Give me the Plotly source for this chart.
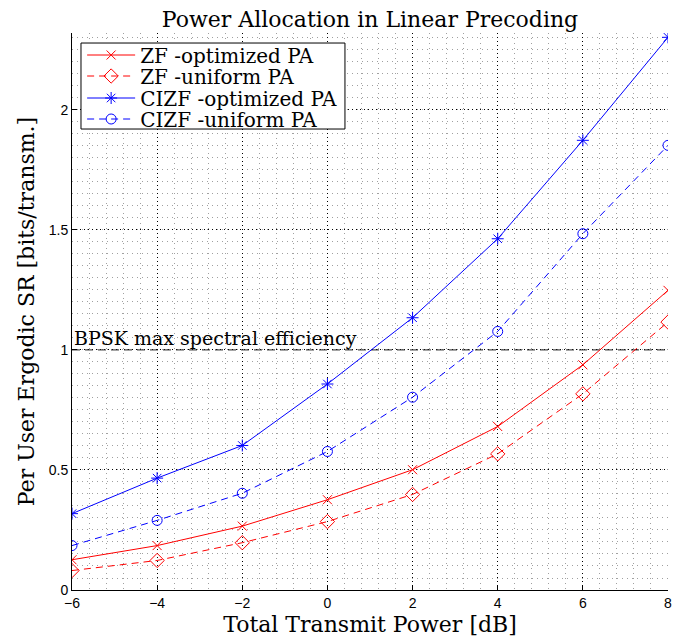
import plotly.graph_objects as go

x_db = [-6, -4, -2, 0, 2, 4, 6, 8]
zf_opt = [0.126, 0.185, 0.266, 0.376, 0.501, 0.681, 0.938, 1.248]
zf_uni = [0.081, 0.123, 0.197, 0.285, 0.398, 0.567, 0.817, 1.116]
cizf_opt = [0.318, 0.466, 0.602, 0.858, 1.134, 1.463, 1.873, 2.302]
cizf_uni = [0.185, 0.290, 0.403, 0.577, 0.803, 1.077, 1.484, 1.852]
bpsk_level = 1.0
names = ["ZF -optimized PA", "ZF -uniform PA", "CIZF -optimized PA", "CIZF -uniform PA"]

serif = "DejaVu Serif, Liberation Serif, serif"
sans = "Liberation Sans, Arial, sans-serif"
RED = "#ff0000"
BLUE = "#0000ff"
DASH = "7px,5px"

fig = go.Figure()
fig.add_trace(go.Scatter(x=[x_db[0], x_db[-1]], y=[bpsk_level, bpsk_level], mode="lines",
                         line=dict(color="#222222", width=1, dash="8px,5px"),
                         showlegend=False, hoverinfo="skip"))
specs = [
    (zf_opt, RED, "solid", "x-thin-open", 9),
    (zf_uni, RED, DASH, "diamond-open", 11),
    (cizf_opt, BLUE, "solid", "asterisk-open", 10),
    (cizf_uni, BLUE, DASH, "circle-open", 10),
]
legend_ids = ["legend", "legend2", "legend3", "legend4"]
for name, lid, (ys, c, d, sym, ms) in zip(names, legend_ids, specs):
    fig.add_trace(go.Scatter(
        x=x_db, y=ys, name=name, mode="lines+markers", legend=lid,
        line=dict(color=c, width=1, dash=d),
        marker=dict(symbol=sym, size=ms, color=c, line=dict(color=c, width=1)),
    ))

fig.add_annotation(x=-6, y=bpsk_level, xref="x", yref="y", text="BPSK max spectral efficiency",
                   showarrow=False, xanchor="left", yanchor="bottom", xshift=0, yshift=-1,
                   font=dict(family=serif, size=19, color="black"))

# legend frame
fig.add_shape(type="rect", xref="paper", yref="paper", x0=0.0151, x1=0.458, y0=0.8276, y1=0.982,
              line=dict(color="black", width=1), fillcolor="white", layer="above")

axis_common = dict(
    showline=True, linecolor="black", linewidth=1,
    ticks="inside", ticklen=5, tickcolor="black",
    tickfont=dict(family=sans, size=14, color="black"),
    showgrid=True, gridcolor="#000000", gridwidth=1, griddash="1px,3px",
    zeroline=False, mirror=False, automargin=False,
)
fig.update_xaxes(range=[-6, 8], tickmode="linear", tick0=-6, dtick=2,
                 title=dict(text="Total Transmit Power [dB]", font=dict(family=serif, size=22, color="black"), standoff=6),
                 minor=dict(tickmode="linear", tick0=-6, dtick=0.4, showgrid=True, gridcolor="#a0a0a0",
                            griddash="1px,4px", gridwidth=1),
                 **axis_common)
fig.update_yaxes(range=[0, 2.32], tickmode="array", tickvals=[0, 0.5, 1, 1.5, 2], ticktext=["0", "0.5", "1", "1.5", "2"],
                 title=dict(text="Per User Ergodic SR [bits/transm.]", font=dict(family=serif, size=22, color="black"), standoff=8),
                 minor=dict(tickmode="linear", tick0=0, dtick=0.05, showgrid=True, gridcolor="#a0a0a0",
                            griddash="1px,4px", gridwidth=1),
                 **axis_common)

row_y = [0.9605, 0.9228, 0.8833, 0.8456]
leg_common = dict(x=0.017, xanchor="left", yanchor="middle", bgcolor="rgba(0,0,0,0)", borderwidth=0,
                  font=dict(family=serif, size=20, color="black"), itemwidth=48, tracegroupgap=0)

fig.update_layout(
    width=675, height=635,
    margin=dict(l=64, r=15, t=25, b=53),
    paper_bgcolor="white", plot_bgcolor="white",
    title=dict(text="Power Allocation in Linear Precoding", x=0.5, xanchor="center", xref="paper",
               y=0.982, yanchor="middle",
               font=dict(family=serif, size=22, color="black"), automargin=False),
    legend=dict(y=row_y[0], **leg_common),
    legend2=dict(y=row_y[1], **leg_common),
    legend3=dict(y=row_y[2], **leg_common),
    legend4=dict(y=row_y[3], **leg_common),
    showlegend=True,
)

fig.write_html("out.html")
